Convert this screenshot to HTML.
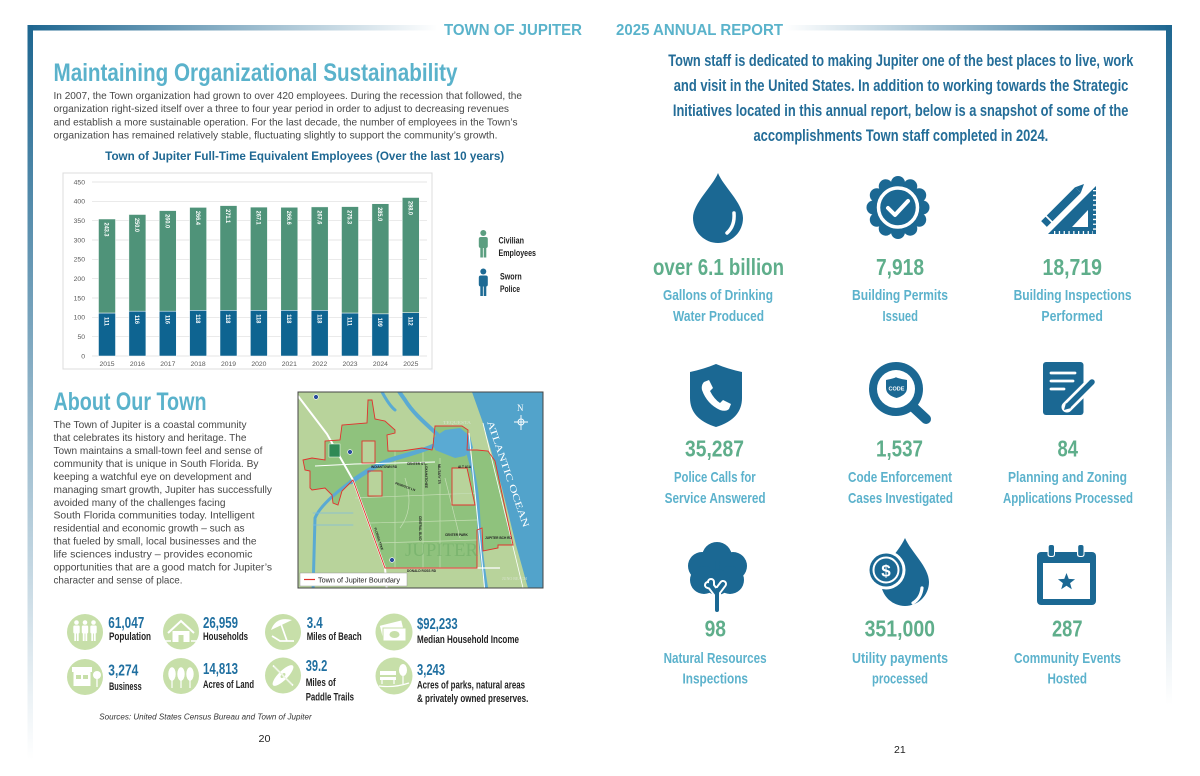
<!DOCTYPE html>
<html><head><meta charset="utf-8"><style>html,body{margin:0;padding:0;background:#fff}svg{display:block}</style></head>
<body>
<svg width="1200" height="776" viewBox="0 0 1200 776" xmlns="http://www.w3.org/2000/svg" font-family="'Liberation Sans','DejaVu Sans',sans-serif">
<defs>
<linearGradient id="gTL" x1="0" y1="0" x2="1" y2="0"><stop offset="0" stop-color="#1d6690"/><stop offset="1" stop-color="#ffffff"/></linearGradient>
<linearGradient id="gL" x1="0" y1="0" x2="0" y2="1"><stop offset="0" stop-color="#1d6690"/><stop offset="1" stop-color="#ffffff"/></linearGradient>
<linearGradient id="gTR" x1="0" y1="0" x2="1" y2="0"><stop offset="0" stop-color="#ffffff"/><stop offset="1" stop-color="#1d6690"/></linearGradient>
<linearGradient id="gR" x1="0" y1="0" x2="0" y2="1"><stop offset="0" stop-color="#1d6690"/><stop offset="1" stop-color="#ffffff"/></linearGradient>
<clipPath id="mapclip"><rect x="3" y="4" width="245" height="196"/></clipPath>
</defs>

<!-- frame -->
<rect x="27.5" y="25" width="410" height="5.5" fill="url(#gTL)"/>
<rect x="27.5" y="25" width="5.5" height="735" fill="url(#gL)"/>
<rect x="785" y="25" width="387" height="5.5" fill="url(#gTR)"/>
<rect x="1166" y="25" width="6" height="680" fill="url(#gR)"/>

<!-- header -->
<text x="444" y="35" font-size="16" font-weight="bold" fill="#5ab3cb" textLength="138" lengthAdjust="spacingAndGlyphs">TOWN OF JUPITER</text>
<text x="616" y="35" font-size="16" font-weight="bold" fill="#5ab3cb" textLength="167" lengthAdjust="spacingAndGlyphs">2025 ANNUAL REPORT</text>

<!-- left title & paragraph -->
<text x="53.5" y="81" font-size="25" font-weight="bold" fill="#5ab2cb" textLength="404" lengthAdjust="spacingAndGlyphs">Maintaining Organizational Sustainability</text>
<g font-size="10.5" fill="#474747">
<text x="53.5" y="98.8" textLength="468.5" lengthAdjust="spacingAndGlyphs">In 2007, the Town organization had grown to over 420 employees. During the recession that followed, the</text>
<text x="53.5" y="112.1" textLength="455.5" lengthAdjust="spacingAndGlyphs">organization right-sized itself over a three to four year period in order to adjust to decreasing revenues</text>
<text x="53.5" y="125.4" textLength="464" lengthAdjust="spacingAndGlyphs">and establish a more sustainable operation. For the last decade, the number of employees in the Town’s</text>
<text x="53.5" y="138.7" textLength="444" lengthAdjust="spacingAndGlyphs">organization has remained relatively stable, fluctuating slightly to support the community’s growth.</text>
</g>
<text x="105.2" y="160" font-size="11.5" font-weight="bold" fill="#1e6792" textLength="399" lengthAdjust="spacingAndGlyphs">Town of Jupiter Full-Time Equivalent Employees (Over the last 10 years)</text>

<!-- chart -->
<rect x="63" y="173" width="369" height="196" fill="#fff" stroke="#dcdcdc" stroke-width="1"/>
<g stroke="#dedede" stroke-width="0.7">
<line x1="92" y1="182" x2="427" y2="182"/><line x1="92" y1="201.3" x2="427" y2="201.3"/><line x1="92" y1="220.7" x2="427" y2="220.7"/><line x1="92" y1="240" x2="427" y2="240"/><line x1="92" y1="259.3" x2="427" y2="259.3"/><line x1="92" y1="278.7" x2="427" y2="278.7"/><line x1="92" y1="298" x2="427" y2="298"/><line x1="92" y1="317.3" x2="427" y2="317.3"/><line x1="92" y1="336.7" x2="427" y2="336.7"/><line x1="92" y1="356" x2="427" y2="356"/>
</g>
<g font-size="6.8" fill="#595959" text-anchor="end">
<text x="85" y="184.3">450</text><text x="85" y="203.6">400</text><text x="85" y="223">350</text><text x="85" y="242.3">300</text><text x="85" y="261.6">250</text><text x="85" y="281">200</text><text x="85" y="300.3">150</text><text x="85" y="319.6">100</text><text x="85" y="339">50</text><text x="85" y="358.3">0</text>
</g>
<g stroke="#ffffff" stroke-width="0.5">
<rect x="98.5" y="219.0" width="17" height="94.1" fill="#4f9379"/><rect x="98.5" y="313.1" width="17" height="42.9" fill="#0e6491"/>
<rect x="128.9" y="214.5" width="17" height="96.7" fill="#4f9379"/><rect x="128.9" y="311.2" width="17" height="44.8" fill="#0e6491"/>
<rect x="159.3" y="210.6" width="17" height="100.6" fill="#4f9379"/><rect x="159.3" y="311.2" width="17" height="44.8" fill="#0e6491"/>
<rect x="189.6" y="207.4" width="17" height="103.0" fill="#4f9379"/><rect x="189.6" y="310.4" width="17" height="45.6" fill="#0e6491"/>
<rect x="220.0" y="205.6" width="17" height="104.8" fill="#4f9379"/><rect x="220.0" y="310.4" width="17" height="45.6" fill="#0e6491"/>
<rect x="250.4" y="207.1" width="17" height="103.3" fill="#4f9379"/><rect x="250.4" y="310.4" width="17" height="45.6" fill="#0e6491"/>
<rect x="280.8" y="207.3" width="17" height="103.1" fill="#4f9379"/><rect x="280.8" y="310.4" width="17" height="45.6" fill="#0e6491"/>
<rect x="311.2" y="206.9" width="17" height="103.5" fill="#4f9379"/><rect x="311.2" y="310.4" width="17" height="45.6" fill="#0e6491"/>
<rect x="341.5" y="206.6" width="17" height="106.5" fill="#4f9379"/><rect x="341.5" y="313.1" width="17" height="42.9" fill="#0e6491"/>
<rect x="371.9" y="203.7" width="17" height="110.2" fill="#4f9379"/><rect x="371.9" y="313.9" width="17" height="42.1" fill="#0e6491"/>
<rect x="402.3" y="197.5" width="17" height="115.2" fill="#4f9379"/><rect x="402.3" y="312.7" width="17" height="43.3" fill="#0e6491"/>
</g>
<g font-size="6.3" font-weight="bold" fill="#ffffff">
<text transform="translate(104.7,222.5) rotate(90)" textLength="14" lengthAdjust="spacingAndGlyphs">243.3</text>
<text transform="translate(135.1,218) rotate(90)" textLength="14" lengthAdjust="spacingAndGlyphs">250.0</text>
<text transform="translate(165.5,214.1) rotate(90)" textLength="14" lengthAdjust="spacingAndGlyphs">260.0</text>
<text transform="translate(195.8,210.9) rotate(90)" textLength="14" lengthAdjust="spacingAndGlyphs">266.4</text>
<text transform="translate(226.2,209.1) rotate(90)" textLength="14" lengthAdjust="spacingAndGlyphs">271.1</text>
<text transform="translate(256.6,210.6) rotate(90)" textLength="14" lengthAdjust="spacingAndGlyphs">267.1</text>
<text transform="translate(287,210.8) rotate(90)" textLength="14" lengthAdjust="spacingAndGlyphs">266.6</text>
<text transform="translate(317.4,210.4) rotate(90)" textLength="14" lengthAdjust="spacingAndGlyphs">267.6</text>
<text transform="translate(347.7,210.1) rotate(90)" textLength="14" lengthAdjust="spacingAndGlyphs">275.3</text>
<text transform="translate(378.1,207.2) rotate(90)" textLength="14" lengthAdjust="spacingAndGlyphs">285.0</text>
<text transform="translate(408.5,201) rotate(90)" textLength="14" lengthAdjust="spacingAndGlyphs">298.0</text>
<text transform="translate(104.7,317) rotate(90)" textLength="9" lengthAdjust="spacingAndGlyphs">111</text>
<text transform="translate(135.1,315) rotate(90)" textLength="9" lengthAdjust="spacingAndGlyphs">116</text>
<text transform="translate(165.5,315) rotate(90)" textLength="9" lengthAdjust="spacingAndGlyphs">116</text>
<text transform="translate(195.8,314.3) rotate(90)" textLength="9" lengthAdjust="spacingAndGlyphs">118</text>
<text transform="translate(226.2,314.3) rotate(90)" textLength="9" lengthAdjust="spacingAndGlyphs">118</text>
<text transform="translate(256.6,314.3) rotate(90)" textLength="9" lengthAdjust="spacingAndGlyphs">118</text>
<text transform="translate(287,314.3) rotate(90)" textLength="9" lengthAdjust="spacingAndGlyphs">118</text>
<text transform="translate(317.4,314.3) rotate(90)" textLength="9" lengthAdjust="spacingAndGlyphs">118</text>
<text transform="translate(347.7,317) rotate(90)" textLength="9" lengthAdjust="spacingAndGlyphs">111</text>
<text transform="translate(378.1,317.8) rotate(90)" textLength="9" lengthAdjust="spacingAndGlyphs">109</text>
<text transform="translate(408.5,316.6) rotate(90)" textLength="9" lengthAdjust="spacingAndGlyphs">112</text>
</g>
<g font-size="6.8" fill="#595959" text-anchor="middle">
<text x="107" y="366">2015</text><text x="137.4" y="366">2016</text><text x="167.8" y="366">2017</text><text x="198.1" y="366">2018</text><text x="228.5" y="366">2019</text><text x="258.9" y="366">2020</text><text x="289.3" y="366">2021</text><text x="319.7" y="366">2022</text><text x="350" y="366">2023</text><text x="380.4" y="366">2024</text><text x="410.8" y="366">2025</text>
</g>

<!-- chart legend -->
<g fill="#5b9e80">
<circle cx="483.3" cy="233" r="3"/>
<rect x="478.8" y="237" width="9" height="11" rx="2"/>
<rect x="480.3" y="246" width="2.6" height="11.5"/><rect x="483.7" y="246" width="2.6" height="11.5"/>
</g>
<g fill="#1d6a94">
<circle cx="483.3" cy="271.5" r="3"/>
<rect x="478.8" y="275.5" width="9" height="11" rx="2"/>
<rect x="480.3" y="284.5" width="2.6" height="11.5"/><rect x="483.7" y="284.5" width="2.6" height="11.5"/>
</g>
<g font-size="9.5" font-weight="bold" fill="#222">
<text x="498.5" y="243.5" textLength="25.5" lengthAdjust="spacingAndGlyphs">Civilian</text>
<text x="498.5" y="255.8" textLength="37.5" lengthAdjust="spacingAndGlyphs">Employees</text>
<text x="500" y="279.3" textLength="21.7" lengthAdjust="spacingAndGlyphs">Sworn</text>
<text x="500" y="292" textLength="20" lengthAdjust="spacingAndGlyphs">Police</text>
</g>

<!-- About our town -->
<text x="53.5" y="410" font-size="25" font-weight="bold" fill="#5ab2cb" textLength="153" lengthAdjust="spacingAndGlyphs">About Our Town</text>
<g font-size="10.5" fill="#474747">
<text x="53.5" y="428" textLength="193" lengthAdjust="spacingAndGlyphs">The Town of Jupiter is a coastal community</text>
<text x="53.5" y="441" textLength="193" lengthAdjust="spacingAndGlyphs">that celebrates its history and heritage. The</text>
<text x="53.5" y="453.9" textLength="209" lengthAdjust="spacingAndGlyphs">Town maintains a small-town feel and sense of</text>
<text x="53.5" y="466.9" textLength="205" lengthAdjust="spacingAndGlyphs">community that is unique in South Florida. By</text>
<text x="53.5" y="479.8" textLength="198" lengthAdjust="spacingAndGlyphs">keeping a watchful eye on development and</text>
<text x="53.5" y="492.8" textLength="218.5" lengthAdjust="spacingAndGlyphs">managing smart growth, Jupiter has successfully</text>
<text x="53.5" y="505.8" textLength="172" lengthAdjust="spacingAndGlyphs">avoided many of the challenges facing</text>
<text x="53.5" y="518.7" textLength="201" lengthAdjust="spacingAndGlyphs">South Florida communities today. Intelligent</text>
<text x="53.5" y="531.7" textLength="191" lengthAdjust="spacingAndGlyphs">residential and economic growth – such as</text>
<text x="53.5" y="544.6" textLength="203" lengthAdjust="spacingAndGlyphs">that fueled by small, local businesses and the</text>
<text x="53.5" y="557.6" textLength="199" lengthAdjust="spacingAndGlyphs">life sciences industry – provides economic</text>
<text x="53.5" y="570.5" textLength="218.5" lengthAdjust="spacingAndGlyphs">opportunities that are a good match for Jupiter’s</text>
<text x="53.5" y="583.5" textLength="129" lengthAdjust="spacingAndGlyphs">character and sense of place.</text>
</g>

<!-- map -->
<g transform="translate(295,388)">
<g clip-path="url(#mapclip)">
<rect x="3" y="4" width="245" height="196" fill="#b8d39b"/>
<polygon points="177,4 248,4 248,200 233,200 221,157 207,100 188,35" fill="#52a3cb"/>
<polygon points="8,72 17,70 30,72 30,53 45,52 47,37 72,35 73,12 77,12 80,31 90,33 100,42 100,45 92,47 93,63 107,63 127,60 137,62 138,58 140,38 167,38 173,42 172,62 182,62 193,63 200,73 218,157 203,157 203,160 188,163 187,140 182,142 182,180 90,180 58,92 47,103 43,117 38,115 37,107 30,100 17,102 15,100 15,83 10,82" fill="#8fc27d"/>
<rect x="67" y="53" width="13" height="22" fill="#b8d39b"/>
<polygon points="157,80 172,80 180,117 157,117" fill="#b8d39b"/>
<rect x="73" y="83" width="14" height="25" fill="#b8d39b"/>
<g stroke="#c4ddb4" stroke-width="0.7" fill="none">
<path d="M100,63 L100,180 M128,62 L128,180 M145,70 L145,180 M60,110 L182,105 M75,135 L182,132 M82,155 L182,152 M110,90 Q120,120 105,140 M150,90 L165,150"/>
</g>
<g fill="none" stroke="#5aaad3" stroke-linecap="round">
<path d="M56,94 C70,84 80,78 95,72 C110,67 125,64 138,58" stroke-width="4.5"/>
<path d="M142,46 C130,35 118,25 110,12 C106,6 104,4 102,0" stroke-width="4"/>
<path d="M85,0 C90,10 95,18 100,22" stroke-width="3"/>
<path d="M172,62 C178,80 182,100 183,120 C184,145 186,170 192,204" stroke-width="3.5"/>
<path d="M58,92 C40,105 25,118 20,130 L18,204" stroke-width="3"/>
<path d="M18,125 L58,125 M18,137 L58,137" stroke-width="0.8" stroke="#7cbde0"/>
</g>
<polygon points="138,50 150,42 165,40 175,48 178,60 170,68 160,70 150,66 140,62" fill="#5aaad3"/>
<g fill="none" stroke="#ffffff">
<path d="M3,8 L32,46 L58,92 L90,180 L92,204" stroke-width="2"/>
<path d="M90,180 L205,180" stroke-width="1.3"/>
<path d="M20,78 L60,76 L140,74" stroke-width="1"/>
<path d="M174,45 L190,204" stroke-width="1"/>
<path d="M188,35 L229,204" stroke-width="0.8"/>
</g>
<g fill="none" stroke="#e2312d" stroke-width="0.9">
<polygon points="8,72 17,70 30,72 30,53 45,52 47,37 72,35 73,12 77,12 80,31 90,33 100,42 100,45 92,47 93,63 107,63 127,60 137,62 138,58 140,38 167,38 173,42 172,62 182,62 193,63 200,73 218,157 203,157 203,160 188,163 187,140 182,142 182,180 90,180 58,92 47,103 43,117 38,115 37,107 30,100 17,102 15,100 15,83 10,82"/>
<rect x="67" y="53" width="13" height="22"/>
<polygon points="157,80 172,80 180,117 157,117"/>
<rect x="73" y="83" width="14" height="25"/>
</g>
<rect x="34" y="56" width="11" height="13" fill="#2f8a55" stroke="#fff" stroke-width="0.5"/>
<g fill="#2a4d9c" stroke="#fff" stroke-width="0.6">
<circle cx="21" cy="9" r="2.4"/><circle cx="55" cy="64" r="2.4"/><circle cx="97" cy="172" r="2.4"/>
</g>
<g font-size="3.2" font-weight="bold" fill="#222">
<text x="76" y="80">INDIANTOWN RD</text>
<text x="112" y="77">CENTER ST</text>
<text x="163" y="80">ALT A1A</text>
<text x="150" y="148">CENTER PARK</text>
<text x="190" y="151">JUPITER BCH RD</text>
<text x="112" y="184">DONALD ROSS RD</text>
<text transform="translate(130,76) rotate(90)">LOXAHATCHEE</text>
<text transform="translate(143,76) rotate(90)">MILITARY TR</text>
<text transform="translate(124,128) rotate(90)">CENTRAL BLVD</text>
<text transform="translate(79,140) rotate(72)">FLORIDA TPKE</text>
<text transform="translate(100,96) rotate(20)">PENNOCK LN</text>
</g>
<text x="110" y="168" font-family="'Liberation Serif',serif" font-size="19" fill="#6fae66" opacity="0.6" textLength="73" lengthAdjust="spacingAndGlyphs">JUPITER</text>
<text x="148" y="36" font-family="'Liberation Serif',serif" font-size="4.5" fill="#d6e2cc" textLength="28" lengthAdjust="spacingAndGlyphs">TEQUESTA</text>
<text x="207" y="192" font-family="'Liberation Serif',serif" font-size="4" fill="#d6e2cc">JUNO BEACH</text>
<text transform="translate(192,34) rotate(71)" font-family="'Liberation Serif',serif" font-size="9.5" fill="#ffffff" textLength="112" lengthAdjust="spacingAndGlyphs">ATLANTIC OCEAN</text>
<text x="222" y="23" font-family="'Liberation Serif',serif" font-size="9" fill="#fff">N</text>
<g stroke="#fff" stroke-width="0.9" fill="none"><path d="M226,27 L226,42 M219,34 L233,34"/><circle cx="226" cy="34" r="3"/></g>
<rect x="5" y="185" width="107" height="13" fill="#fff" stroke="#999" stroke-width="0.5"/>
<line x1="9" y1="191.5" x2="20" y2="191.5" stroke="#e0302a" stroke-width="1.2"/>
<text x="23" y="194.5" font-size="7" fill="#222" textLength="82" lengthAdjust="spacingAndGlyphs">Town of Jupiter Boundary</text>
</g>
<rect x="3" y="4" width="245" height="196" fill="none" stroke="#444" stroke-width="1"/>
</g>

<!-- stats circles -->
<g fill="#c7dfa9">
<circle cx="85" cy="632" r="18"/><circle cx="181" cy="631.5" r="18"/><circle cx="283" cy="632" r="18"/><circle cx="394" cy="632" r="18.5"/>
<circle cx="85" cy="677" r="18"/><circle cx="181" cy="676" r="18"/><circle cx="283" cy="675.5" r="18"/><circle cx="394" cy="676" r="18.5"/>
</g>
<g fill="#fff">
<circle cx="76.5" cy="622.5" r="2.3"/><rect x="73.3" y="625.5" width="6.4" height="8" rx="1.2"/><rect x="74.3" y="632" width="1.8" height="9"/><rect x="76.9" y="632" width="1.8" height="9"/>
<circle cx="85" cy="622.5" r="2.3"/><rect x="81.8" y="625.5" width="6.4" height="8" rx="1.2"/><rect x="82.8" y="632" width="1.8" height="9"/><rect x="85.4" y="632" width="1.8" height="9"/>
<circle cx="93.5" cy="622.5" r="2.3"/><rect x="90.3" y="625.5" width="6.4" height="8" rx="1.2"/><rect x="91.3" y="632" width="1.8" height="9"/><rect x="93.9" y="632" width="1.8" height="9"/>
</g>
<path d="M168,633 L181,621 L194,633" stroke="#fff" stroke-width="2" fill="none"/>
<rect x="172.5" y="631" width="17" height="11" fill="#fff"/><rect x="178.5" y="635" width="5" height="7" fill="#c7dfa9"/>
<path d="M164,641 L171,641 M191,641 L198,641" stroke="#fff" stroke-width="1.5"/>
<path d="M271,630 Q276,616 292,620 Z" fill="#fff"/>
<path d="M281,624 L287,641 M272,636 L280,641 L294,641" stroke="#fff" stroke-width="1.7" fill="none"/>
<rect x="381" y="623" width="22" height="12" fill="#fff" transform="rotate(-14 392 629)"/>
<rect x="383" y="628" width="23" height="13" fill="#fff" stroke="#c7dfa9" stroke-width="1"/>
<ellipse cx="394.5" cy="634.5" rx="5" ry="3.5" fill="#c7dfa9"/>
<rect x="72" y="667" width="20" height="5" fill="#fff"/><rect x="73.5" y="672" width="17" height="14" fill="#fff"/>
<rect x="76" y="675" width="5" height="4" fill="#c7dfa9"/><rect x="83" y="675" width="5" height="4" fill="#c7dfa9"/>
<circle cx="97" cy="675" r="4" fill="#fff"/><line x1="97" y1="678" x2="97" y2="687" stroke="#fff" stroke-width="1.3"/>
<g fill="#fff"><ellipse cx="172" cy="674" rx="3.7" ry="6.8"/><ellipse cx="181" cy="674" rx="3.7" ry="6.8"/><ellipse cx="190" cy="674" rx="3.7" ry="6.8"/></g>
<path d="M172,678 L172,688 M181,678 L181,688 M190,678 L190,688" stroke="#fff" stroke-width="1.2"/>
<ellipse cx="283" cy="675.5" rx="14" ry="4.6" fill="#fff" transform="rotate(-45 283 675.5)"/>
<ellipse cx="283" cy="675.5" rx="3" ry="1.8" fill="#c7dfa9" transform="rotate(-45 283 675.5)"/>
<line x1="273" y1="665.5" x2="293" y2="685.5" stroke="#fff" stroke-width="1.6"/>
<line x1="274" y1="666.5" x2="292" y2="684.5" stroke="#c7dfa9" stroke-width="0.5"/>
<rect x="380" y="671" width="16" height="4" fill="#fff"/><rect x="380" y="677" width="16" height="3" fill="#fff"/>
<ellipse cx="403" cy="670" rx="4" ry="6" fill="#fff"/>
<path d="M403,676 L403,684 M382,680 L382,684 M394,680 L394,684 M379,686 Q394,688 409,683" stroke="#fff" stroke-width="1.2" fill="none"/>

<g font-size="15.5" font-weight="bold" fill="#1f6fa0">
<text x="108.3" y="628" textLength="36" lengthAdjust="spacingAndGlyphs">61,047</text>
<text x="203" y="628" textLength="35" lengthAdjust="spacingAndGlyphs">26,959</text>
<text x="306.7" y="628" textLength="16" lengthAdjust="spacingAndGlyphs">3.4</text>
<text x="417" y="629" textLength="40.7" lengthAdjust="spacingAndGlyphs">$92,233</text>
<text x="108.3" y="675.5" textLength="30" lengthAdjust="spacingAndGlyphs">3,274</text>
<text x="203" y="674" textLength="35" lengthAdjust="spacingAndGlyphs">14,813</text>
<text x="305.7" y="671" textLength="21.6" lengthAdjust="spacingAndGlyphs">39.2</text>
<text x="417" y="675" textLength="28" lengthAdjust="spacingAndGlyphs">3,243</text>
</g>
<g font-size="11" font-weight="bold" fill="#232323">
<text x="109" y="640" textLength="42" lengthAdjust="spacingAndGlyphs">Population</text>
<text x="203" y="640" textLength="45" lengthAdjust="spacingAndGlyphs">Households</text>
<text x="306.7" y="640" textLength="55" lengthAdjust="spacingAndGlyphs">Miles of Beach</text>
<text x="417" y="643" textLength="102" lengthAdjust="spacingAndGlyphs">Median Household Income</text>
<text x="109" y="690" textLength="32.7" lengthAdjust="spacingAndGlyphs">Business</text>
<text x="203" y="688" textLength="51" lengthAdjust="spacingAndGlyphs">Acres of Land</text>
<text x="305.7" y="686" textLength="30" lengthAdjust="spacingAndGlyphs">Miles of</text>
<text x="305.7" y="700.5" textLength="48.3" lengthAdjust="spacingAndGlyphs">Paddle Trails</text>
<text x="417" y="688.5" textLength="108" lengthAdjust="spacingAndGlyphs">Acres of parks, natural areas</text>
<text x="417" y="702" textLength="111.3" lengthAdjust="spacingAndGlyphs">&amp; privately owned preserves.</text>
</g>
<text x="99.3" y="719.5" font-size="8" font-style="italic" fill="#333" textLength="212.4" lengthAdjust="spacingAndGlyphs">Sources: United States Census Bureau and Town of Jupiter</text>
<text x="258.5" y="742" font-size="10.5" fill="#222" textLength="12" lengthAdjust="spacingAndGlyphs">20</text>
<text x="894" y="753" font-size="10.5" fill="#222" textLength="11.7" lengthAdjust="spacingAndGlyphs">21</text>

<!-- right intro -->
<g font-size="17" font-weight="bold" fill="#246d98">
<text x="668.3" y="66" textLength="465" lengthAdjust="spacingAndGlyphs">Town staff is dedicated to making Jupiter one of the best places to live, work</text>
<text x="673.7" y="91" textLength="454.7" lengthAdjust="spacingAndGlyphs">and visit in the United States. In addition to working towards the Strategic</text>
<text x="672.9" y="116" textLength="455.5" lengthAdjust="spacingAndGlyphs">Initiatives located in this annual report, below is a snapshot of some of the</text>
<text x="753.5" y="141" textLength="294.7" lengthAdjust="spacingAndGlyphs">accomplishments Town staff completed in 2024.</text>
</g>

<!-- right icons -->
<g fill="#1b6893">
<!-- drop -->
<path d="M718,173 C713,186 693,203 693,218 A25,25 0 0 0 743,218 C743,203 723,186 718,173 Z"/>
<!-- badge -->
<circle cx="898" cy="207.5" r="26"/>
<circle cx="898" cy="183" r="7"/><circle cx="910.25" cy="186.3" r="7"/><circle cx="919.2" cy="195.25" r="7"/><circle cx="922.5" cy="207.5" r="7"/><circle cx="919.2" cy="219.75" r="7"/><circle cx="910.25" cy="228.7" r="7"/><circle cx="898" cy="232" r="7"/><circle cx="885.75" cy="228.7" r="7"/><circle cx="876.8" cy="219.75" r="7"/><circle cx="873.5" cy="207.5" r="7"/><circle cx="876.8" cy="195.25" r="7"/><circle cx="885.75" cy="186.3" r="7"/>
<!-- set square -->
<polygon points="1048,234 1096,234 1096,186"/>
<line x1="1044" y1="224" x2="1078" y2="190" stroke="#1b6893" stroke-width="8"/>
<polygon points="1075.2,187.2 1080.8,192.8 1084,184"/>
<!-- shield -->
<path d="M690,372 Q704,369 716,364 Q728,369 742,372 L742,398 Q742,419 716,427 Q690,419 690,398 Z"/>
<!-- magnifier -->
<line x1="912" y1="406" x2="926" y2="419" stroke="#1b6893" stroke-width="10" stroke-linecap="round"/>
<circle cx="896" cy="389" r="27"/>
<!-- document -->
<rect x="1043" y="362" width="40.5" height="53" rx="3"/>
<!-- tree -->
<circle cx="717" cy="557" r="15"/><circle cx="702" cy="566" r="14"/><circle cx="733" cy="566" r="14"/><circle cx="704" cy="580" r="14"/><circle cx="730" cy="580" r="14"/><circle cx="717" cy="582" r="13"/>
<!-- drop with coin -->
<path d="M905,538 C899,552 881,567 881,582 A24,24 0 0 0 929,582 C929,567 911,552 905,538 Z"/>
<!-- calendar -->
<rect x="1037" y="552" width="59" height="53" rx="4"/>
</g>
<g fill="none" stroke="#fff" stroke-linecap="round" stroke-linejoin="round">
<path d="M734,213 Q735,226 727,233" stroke-width="3.5"/>
<circle cx="898" cy="207.5" r="19.5" stroke-width="3.5"/>
<path d="M888,208 L895,215 L908,201" stroke-width="4"/>
<line x1="1045" y1="215" x2="1053" y2="223" stroke-width="1.6" stroke-linecap="butt"/>
<line x1="1094.5" y1="190" x2="1094.5" y2="231" stroke-width="3" stroke-dasharray="1.3 3.5" stroke-linecap="butt"/>
<line x1="1054" y1="232.5" x2="1093" y2="232.5" stroke-width="3" stroke-dasharray="1.3 3.5" stroke-linecap="butt"/>
</g>
<polygon points="1072,227 1088,227 1088,210" fill="#fff"/>
<path d="M704,382 L709,380 L713,388 L710,391 Q714,399 720,403 L723,400 L731,404 L729,409 Q726,412 720,410 Q707,404 702,390 Q701,385 704,382 Z" fill="#fff"/>
<circle cx="896" cy="389" r="19" fill="#fff"/>
<path d="M886,380 Q896,378 896,377 Q896,378 907,380 L907,388 Q907,395 896.5,398 Q886,395 886,388 Z" fill="#1b6893"/>
<text x="888.5" y="390.5" font-size="5.6" font-weight="bold" fill="#fff" textLength="16" lengthAdjust="spacingAndGlyphs">CODE</text>
<g stroke="#fff" stroke-width="2.8" stroke-linecap="round">
<line x1="1051" y1="373" x2="1075" y2="373"/><line x1="1051" y1="381" x2="1073" y2="381"/><line x1="1051" y1="389" x2="1064" y2="389"/>
</g>
<line x1="1067" y1="407" x2="1092" y2="382" stroke="#fff" stroke-width="11" stroke-linecap="round"/>
<line x1="1069" y1="405" x2="1092" y2="382" stroke="#1b6893" stroke-width="5.5" stroke-linecap="round"/>
<polygon points="1064,410 1066,403 1071,408" fill="#1b6893"/>
<path d="M717,610 L717,590 M717,594 L711,586 M717,592 L723,584 M711,586 L708,585 M711,586 L711,582" stroke="#fff" stroke-width="8" stroke-linecap="round" fill="none"/>
<path d="M717,610 L717,590 M717,594 L711,586 M717,592 L723,584 M711,586 L708,585 M711,586 L711,582" stroke="#1b6893" stroke-width="4" stroke-linecap="round" fill="none"/>
<circle cx="886" cy="570" r="19.5" fill="#fff"/>
<circle cx="886" cy="570" r="16.5" fill="#1b6893"/>
<circle cx="886" cy="570" r="12.5" fill="none" stroke="#fff" stroke-width="2"/>
<text x="886" y="576.5" font-size="17" font-weight="bold" fill="#fff" text-anchor="middle">$</text>
<path d="M922,588 Q921,598 913,603" stroke="#fff" stroke-width="3.2" fill="none" stroke-linecap="round"/>
<rect x="1043" y="563" width="47" height="36" fill="#fff"/>
<rect x="1047.5" y="544" width="7.5" height="13" rx="2.5" fill="#fff"/><rect x="1077" y="544" width="7.5" height="13" rx="2.5" fill="#fff"/>
<rect x="1048.7" y="545" width="5.3" height="11" rx="2" fill="#1b6893"/><rect x="1078.2" y="545" width="5.3" height="11" rx="2" fill="#1b6893"/>
<polygon points="1066.5,573 1068.73,578.93 1075.06,579.22 1070.11,583.17 1071.79,589.28 1066.5,585.8 1061.21,589.28 1062.89,583.17 1057.94,579.22 1064.27,578.93" fill="#1b6893"/>

<!-- right numbers -->
<g font-size="23" font-weight="bold" fill="#5fae8b">
<text x="653" y="275" textLength="131" lengthAdjust="spacingAndGlyphs">over 6.1 billion</text>
<text x="876" y="275" textLength="48" lengthAdjust="spacingAndGlyphs">7,918</text>
<text x="1042.5" y="275" textLength="59.5" lengthAdjust="spacingAndGlyphs">18,719</text>
<text x="685" y="456.5" textLength="59" lengthAdjust="spacingAndGlyphs">35,287</text>
<text x="876" y="456.5" textLength="47" lengthAdjust="spacingAndGlyphs">1,537</text>
<text x="1057.5" y="456.5" textLength="20.5" lengthAdjust="spacingAndGlyphs">84</text>
<text x="704.6" y="636.5" textLength="21.4" lengthAdjust="spacingAndGlyphs">98</text>
<text x="864.6" y="636.5" textLength="70.4" lengthAdjust="spacingAndGlyphs">351,000</text>
<text x="1052" y="636.5" textLength="30.5" lengthAdjust="spacingAndGlyphs">287</text>
</g>
<g font-size="15" font-weight="bold" fill="#5cb2cc">
<text x="663" y="300" textLength="110" lengthAdjust="spacingAndGlyphs">Gallons of Drinking</text>
<text x="673" y="321" textLength="91" lengthAdjust="spacingAndGlyphs">Water Produced</text>
<text x="852" y="300" textLength="96" lengthAdjust="spacingAndGlyphs">Building Permits</text>
<text x="882.5" y="321" textLength="35.5" lengthAdjust="spacingAndGlyphs">Issued</text>
<text x="1013.6" y="300" textLength="118" lengthAdjust="spacingAndGlyphs">Building Inspections</text>
<text x="1041.4" y="321" textLength="61.5" lengthAdjust="spacingAndGlyphs">Performed</text>
<text x="674" y="482" textLength="81.7" lengthAdjust="spacingAndGlyphs">Police Calls for</text>
<text x="664.6" y="503" textLength="101" lengthAdjust="spacingAndGlyphs">Service Answered</text>
<text x="848" y="482" textLength="104" lengthAdjust="spacingAndGlyphs">Code Enforcement</text>
<text x="848" y="503" textLength="105" lengthAdjust="spacingAndGlyphs">Cases Investigated</text>
<text x="1008" y="482" textLength="119" lengthAdjust="spacingAndGlyphs">Planning and Zoning</text>
<text x="1003" y="503" textLength="130" lengthAdjust="spacingAndGlyphs">Applications Processed</text>
<text x="663.6" y="663" textLength="103" lengthAdjust="spacingAndGlyphs">Natural Resources</text>
<text x="682.5" y="683.5" textLength="65.5" lengthAdjust="spacingAndGlyphs">Inspections</text>
<text x="852" y="663" textLength="96" lengthAdjust="spacingAndGlyphs">Utility payments</text>
<text x="872" y="683.5" textLength="56" lengthAdjust="spacingAndGlyphs">processed</text>
<text x="1014" y="663" textLength="107" lengthAdjust="spacingAndGlyphs">Community Events</text>
<text x="1047.5" y="683.5" textLength="39.5" lengthAdjust="spacingAndGlyphs">Hosted</text>
</g>
</svg>
</body></html>
